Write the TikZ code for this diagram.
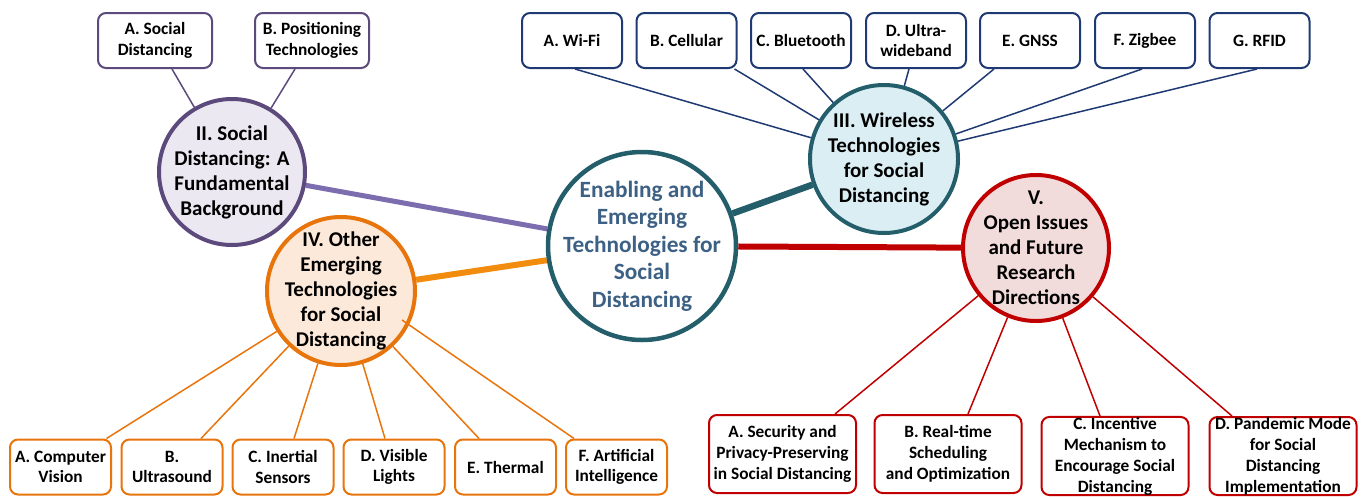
\documentclass[tikz,border=0pt]{standalone}
\usepackage{fontspec}
\setmainfont{Carlito}
\definecolor{purpD}{HTML}{5C4A7D}
\definecolor{purpF}{HTML}{ECE8F2}
\definecolor{purpL}{HTML}{7C6DAF}
\definecolor{tealD}{HTML}{245E6B}
\definecolor{hubtext}{HTML}{3D6185}
\definecolor{wirF}{HTML}{DAEEF3}
\definecolor{navy}{HTML}{1F3A73}
\definecolor{orgD}{HTML}{E8740C}
\definecolor{orgF}{HTML}{FDE9D9}
\definecolor{orgL}{HTML}{F28C0F}
\definecolor{redD}{HTML}{C00000}
\definecolor{redF}{HTML}{F2DCDB}
\pgfdeclarelayer{bg}
\pgfsetlayers{bg,main}
\tikzset{
  hub/.style={circle, line width=4.5pt, draw=tealD, fill=white, minimum size=188pt, inner sep=-40pt, align=center, text=hubtext, font=\bfseries\fontsize{23.3}{27.5}\selectfont},
  sect/.style={circle, line width=4pt, minimum size=146pt, inner sep=-35pt, align=center, font=\bfseries\fontsize{21}{25}\selectfont},
  leaf/.style={rectangle, rounded corners=8pt, line width=2pt, fill=white, inner sep=0pt, align=center, font=\bfseries\fontsize{17.3}{20.5}\selectfont},
  topleaf/.style={leaf, minimum width=100pt, minimum height=55pt},
  lowleaf/.style={leaf, minimum width=101pt, minimum height=55pt},
  redleaf/.style={leaf, draw=redD, minimum width=147pt, minimum height=78pt, font=\bfseries\fontsize{17.3}{21}\selectfont},
  twig/.style={line width=1.5pt},
  trunk/.style={line width=6pt}
}
\begin{document}
\begin{tikzpicture}[x=1pt,y=-1pt]
\useasboundingbox (0,0) rectangle (1362,496);

% hub
\node[hub] (hub) at (642,246) {Enabling and\\Emerging\\Technologies for\\Social\\Distancing};

% sections
\node[sect, draw=purpD, fill=purpF] (sII) at (232,172) {II. Social\\Distancing: A\\Fundamental\\Background};
\node[sect, draw=tealD, fill=wirF, minimum size=148pt] (sIII) at (884,159) {III. Wireless\\Technologies\\for Social\\Distancing};
\node[sect, draw=orgD, fill=orgF, minimum size=148pt] (sIV) at (341,291) {IV. Other\\Emerging\\Technologies\\for Social\\Distancing};
\node[sect, draw=redD, fill=redF] (sV) at (1036,248) {V.\\Open Issues\\and Future\\Research\\Directions};

% II leaves
\node[leaf, draw=purpD, minimum width=114pt, minimum height=55pt] (pa) at (155,40.5) {A. Social\\Distancing};
\node[leaf, draw=purpD, minimum width=114pt, minimum height=55pt] (pb) at (312,40.5) {B. Positioning\\Technologies};

% III leaves
\node[topleaf, draw=navy] (wa) at (572,40.5) {A. Wi-Fi};
\node[topleaf, draw=navy] (wb) at (686.5,40.5) {B. Cellular};
\node[topleaf, draw=navy] (wc) at (801,40.5) {C. Bluetooth};
\node[topleaf, draw=navy] (wd) at (916,40.5) {D. Ultra-\\wideband};
\node[topleaf, draw=navy] (we) at (1030,40.5) {E. GNSS};
\node[topleaf, draw=navy] (wf) at (1145,40.5) {F. Zigbee};
\node[topleaf, draw=navy] (wg) at (1259.5,40.5) {G. RFID};

% IV leaves
\node[lowleaf, draw=orgD] (oa) at (60.5,467) {A. Computer\\Vision};
\node[lowleaf, draw=orgD] (ob) at (172,467) {B.\\Ultrasound};
\node[lowleaf, draw=orgD] (oc) at (283,467) {C. Inertial\\Sensors};
\node[lowleaf, draw=orgD] (od) at (394,467) {D. Visible\\Lights};
\node[lowleaf, draw=orgD] (oe) at (505.5,467) {E. Thermal};
\node[lowleaf, draw=orgD] (of) at (616.5,467) {F. Artificial\\Intelligence};

% V leaves
\node[redleaf] (ra) at (782.5,454) {A. Security and\\Privacy-Preserving\\in Social Distancing};
\node[redleaf] (rb) at (948,454) {B. Real-time\\Scheduling\\and Optimization};
\node[redleaf] (rc) at (1115,456) {C. Incentive\\Mechanism to\\Encourage Social\\Distancing};
\node[redleaf] (rd) at (1283,456) {D. Pandemic Mode\\for Social\\Distancing\\Implementation};

\coordinate (ftip) at (402,320);

\begin{pgfonlayer}{bg}
  % trunks
  \draw[trunk, purpL, line width=5pt] (sII) -- (hub);
  \draw[trunk, orgL] (sIV) -- (hub);
  \draw[trunk, tealD, line width=6.5pt] (hub) -- (sIII);
  \draw[trunk, redD] (hub) -- (sV);
  % II twigs
  \draw[twig, purpD] ([xshift=17pt]pa.south) -- (sII);
  \draw[twig, purpD] ([xshift=-17pt]pb.south) -- (sII);
  % III twigs
  \draw[twig, navy] ([xshift=3pt]wa.south) -- (sIII);
  \draw[twig, navy] ([xshift=48pt]wb.south) -- (sIII);
  \draw[twig, navy] ([xshift=2pt]wc.south) -- (sIII);
  \draw[twig, navy] ([xshift=-7pt]wd.south) -- (sIII);
  \draw[twig, navy] ([xshift=-36pt]we.south) -- (sIII);
  \draw[twig, navy] ([xshift=-3pt]wf.south) -- (sIII);
  \draw[twig, navy] ([xshift=-2.5pt]wg.south) -- (sIII);
  % IV twigs
  \draw[twig, orgD] ([xshift=46pt]oa.north) -- (sIV);
  \draw[twig, orgD] ([xshift=29pt]ob.north) -- (sIV);
  \draw[twig, orgD] ([xshift=11pt]oc.north) -- (sIV);
  \draw[twig, orgD] ([xshift=-9pt]od.north) -- (sIV);
  \draw[twig, orgD] ([xshift=-26.5pt]oe.north) -- (sIV);
  % V twigs
  \draw[twig, redD] ([xshift=52.5pt]ra.north) -- (sV);
  \draw[twig, redD] ([xshift=20pt]rb.north) -- (sV);
  \draw[twig, redD] ([xshift=-15pt]rc.north) -- (sV);
  \draw[twig, redD] ([xshift=-51pt]rd.north) -- (sV);
\end{pgfonlayer}
\draw[twig, orgD] ([xshift=-42.5pt]of.north) -- (ftip);
\end{tikzpicture}
\end{document}
